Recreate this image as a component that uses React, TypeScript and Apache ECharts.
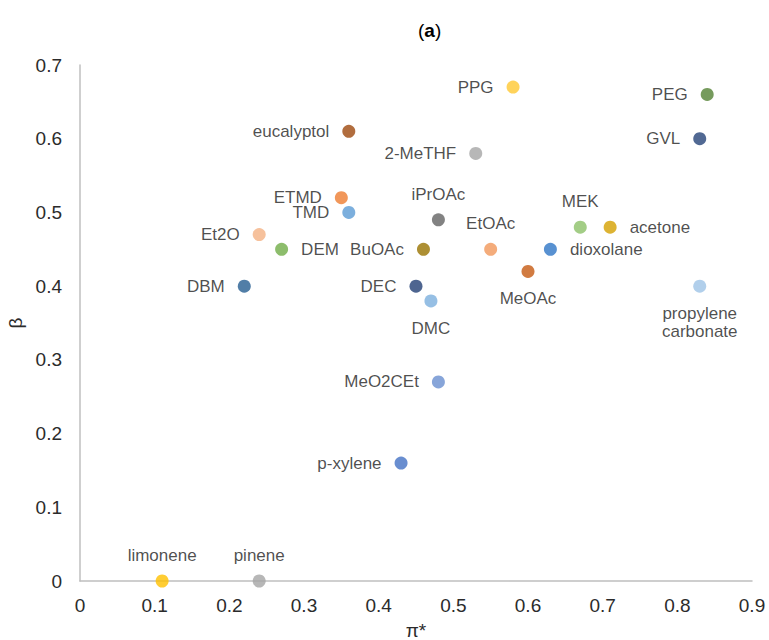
import React, { useEffect, useRef } from "react";
import * as echarts from "echarts";

const solvents = [
  "PPG", "PEG", "eucalyptol", "2-MeTHF", "GVL", "ETMD", "TMD", "iPrOAc",
  "Et2O", "DEM", "BuOAc", "EtOAc", "dioxolane", "MEK", "acetone", "MeOAc",
  "DBM", "DEC", "DMC", "propylene\ncarbonate", "MeO2CEt", "p-xylene",
  "limonene", "pinene",
];
const piStar = [
  0.58, 0.84, 0.36, 0.53, 0.83, 0.35, 0.36, 0.48,
  0.24, 0.27, 0.46, 0.55, 0.63, 0.67, 0.71, 0.60,
  0.22, 0.45, 0.47, 0.83, 0.48, 0.43,
  0.11, 0.24,
];
const beta = [
  0.67, 0.66, 0.61, 0.58, 0.60, 0.52, 0.50, 0.49,
  0.47, 0.45, 0.45, 0.45, 0.45, 0.48, 0.48, 0.42,
  0.40, 0.40, 0.38, 0.40, 0.27, 0.16,
  0, 0,
];
const xTicks = [0, 0.1, 0.2, 0.3, 0.4, 0.5, 0.6, 0.7, 0.8, 0.9];
const yTicks = [0, 0.1, 0.2, 0.3, 0.4, 0.5, 0.6, 0.7];

// styles (separate from data)
const colors = [
  "#ffc832", "#548235", "#9e480e", "#a5a5a5", "#264478", "#ed7d31", "#5b9bd5", "#636363",
  "#f4b183", "#70ad47", "#997300", "#f1975a", "#2e75c6", "#8cc168", "#d4a000", "#c55a11",
  "#255e91", "#223e74", "#7cafdd", "#9dc3e6", "#698ed0", "#4472c4",
  "#ffc000", "#a5a5a5",
];
const labelPos = [
  "left", "left", "left", "left", "left", "left", "left", "top",
  "left", "right", "left", "top", "right", "top", "right", "bottom",
  "left", "left", "bottom", "bottom", "left", "left",
  "top", "top",
];

export default function App() {
  const ref = useRef<HTMLDivElement>(null);
  useEffect(() => {
    if (!ref.current) return;
    const chart = echarts.init(ref.current, null, { renderer: "svg" });
    const font = "'Liberation Sans', Arial, sans-serif";
    const data = solvents.map((name, i) => {
      const pos = labelPos[i];
      const dist = pos === "top" ? 10 : pos === "bottom" ? 12 : 13;
      return {
        name,
        value: [piStar[i], beta[i]],
        itemStyle: { color: colors[i] },
        label: {
          show: true,
          position: pos,
          distance: dist,
          formatter: "{b}",
          color: "#1f1f1f",
          fontSize: 17,
          fontFamily: font,
          lineHeight: 18,
        },
      };
    });
    chart.setOption({
      animation: false,
      title: {
        text: "{n|(}{b|a}{n|)}",
        left: 413,
        top: 16,
        textStyle: {
          fontSize: 19,
          fontFamily: font,
          rich: {
            n: { fontWeight: "normal", fontSize: 19, fontFamily: font, color: "#000" },
            b: { fontWeight: "bold", fontSize: 19, fontFamily: font, color: "#000" },
          },
        },
      },
      grid: {
        left: 80, right: 17, top: 65, bottom: 59,
        containLabel: false,
        outerBoundsMode: "none",
      },
      xAxis: {
        type: "value",
        min: xTicks[0],
        max: xTicks[xTicks.length - 1],
        interval: 0.1,
        name: "π*",
        nameLocation: "middle",
        nameGap: 40,
        nameTextStyle: { fontSize: 19, color: "#2b2b2b", fontFamily: font },
        axisLine: { show: true, lineStyle: { color: "#bfbfbf", width: 1.5 } },
        axisTick: { show: false },
        splitLine: { show: false },
        axisLabel: {
          fontSize: 19,
          color: "#2b2b2b",
          fontFamily: font,
          margin: 15,
          formatter: (v: number) => String(Math.round(v * 10) / 10),
        },
      },
      yAxis: {
        type: "value",
        min: yTicks[0],
        max: yTicks[yTicks.length - 1],
        interval: 0.1,
        name: "β",
        nameLocation: "middle",
        nameGap: 42,
        nameRotate: 90,
        nameTextStyle: { fontSize: 19, color: "#2b2b2b", fontFamily: font },
        axisLine: { show: true, lineStyle: { color: "#bfbfbf", width: 1.5 } },
        axisTick: { show: false },
        splitLine: { show: false },
        axisLabel: {
          fontSize: 19,
          color: "#2b2b2b",
          fontFamily: font,
          margin: 18,
          formatter: (v: number) => String(Math.round(v * 10) / 10),
        },
      },
      series: [
        {
          type: "scatter",
          symbol: "circle",
          symbolSize: 13,
          data,
        },
      ],
    });
    return () => chart.dispose();
  }, []);
  return (
    <div
      ref={ref}
      style={{ position: "absolute", left: 0, top: 0, width: 769, height: 640, background: "#fff" }}
    />
  );
}
